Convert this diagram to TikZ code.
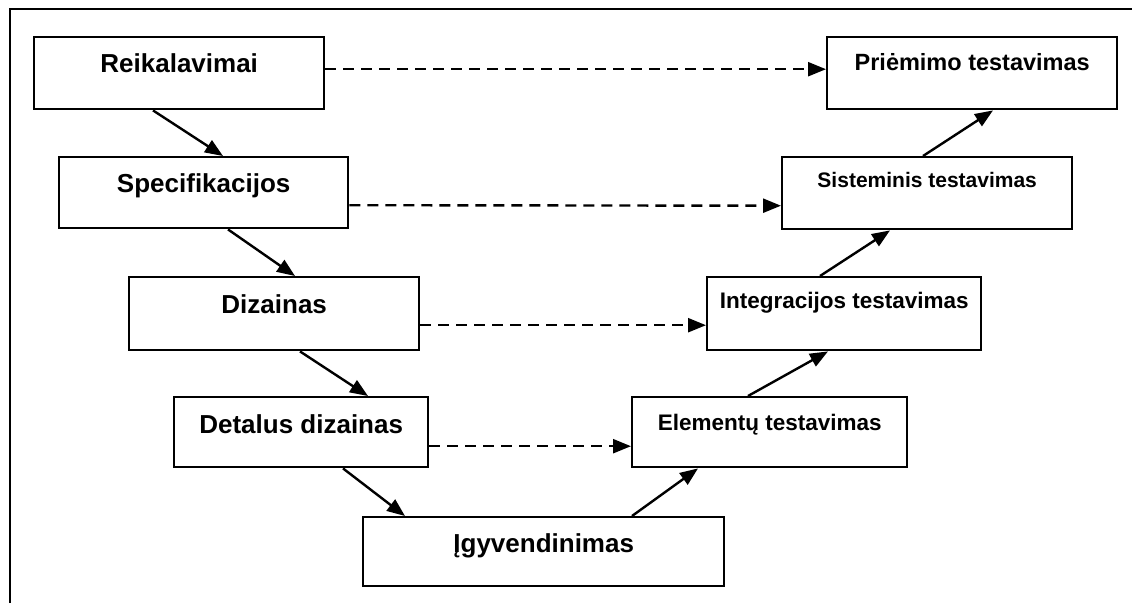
\documentclass[tikz,border=0pt]{standalone}
\usepackage{fontspec}
\setmainfont{Liberation Sans}
\usetikzlibrary{arrows.meta}
\tikzset{
  box/.style={draw=black, line width=2.4pt, rectangle, inner sep=0pt, anchor=north west},
  lbl/.style={anchor=base, inner sep=0pt, font=\bfseries},
  arr/.style={line width=2.4pt, -{Triangle[length=18pt,width=14pt]}},
  dsh/.style={line width=2.4pt, dash pattern=on 11pt off 7pt, -{Triangle[length=18pt,width=14pt]}},
  frame/.style={line width=2.4pt}
}
\newcommand{\fsz}[1]{\fontsize{#1}{#1}\selectfont}
\begin{document}
\begin{tikzpicture}[x=1pt,y=-1pt]
\useasboundingbox (0,0) rectangle (1132,603);
\draw[frame] (10,603) -- (10,9) -- (1132,9);
% left branch
\node[box, minimum width=290pt, minimum height=72pt] (r) at (33,36) {};
\node[box, minimum width=289pt, minimum height=71pt] (s) at (58,156) {};
\node[box, minimum width=290pt, minimum height=73pt] (d) at (128,276) {};
\node[box, minimum width=254pt, minimum height=70pt] (dd) at (173,396) {};
\node[box, minimum width=361pt, minimum height=69pt] (ig) at (362,516) {};
% right branch
\node[box, minimum width=275pt, minimum height=70pt] (el) at (631,396) {};
\node[box, minimum width=274pt, minimum height=73pt] (in) at (706,276) {};
\node[box, minimum width=290pt, minimum height=72pt] (si) at (781,156) {};
\node[box, minimum width=290pt, minimum height=72pt] (pr) at (826,36) {};
% labels
\node[lbl, font=\bfseries\fsz{26}] (rt) at ([yshift=-36pt]r.north) {Reikalavimai};
\node[lbl, font=\bfseries\fsz{26}] (st) at ([yshift=-36pt]s.north) {Specifikacijos};
\node[lbl, font=\bfseries\fsz{26}] (dt) at ([yshift=-37pt]d.north) {Dizainas};
\node[lbl, font=\bfseries\fsz{26}] (ddt) at ([yshift=-37pt]dd.north) {Detalus dizainas};
\node[lbl, font=\bfseries\fsz{26}] (igt) at ([yshift=-36pt]ig.north) {Įgyvendinimas};
\node[lbl, font=\bfseries\fsz{22.5}] (elt) at ([yshift=-34pt]el.north) {Elementų testavimas};
\node[lbl, font=\bfseries\fsz{22.5}] (int) at ([yshift=-32pt]in.north) {Integracijos testavimas};
\node[lbl, font=\bfseries\fsz{21}] (sit) at ([yshift=-31pt]si.north) {Sisteminis testavimas};
\node[lbl, font=\bfseries\fsz{23.5}] (prt) at ([yshift=-34pt]pr.north) {Priėmimo testavimas};
% solid arrows
\draw[arr] ([xshift=120pt]r.south west) -- ([xshift=165pt]s.north west);
\draw[arr] ([xshift=170pt]s.south west) -- ([xshift=167pt]d.north west);
\draw[arr] ([xshift=172pt]d.south west) -- ([xshift=195pt]dd.north west);
\draw[arr] ([xshift=170pt]dd.south west) -- ([xshift=43pt]ig.north west);
\draw[arr] ([xshift=270pt]ig.north west) -- ([xshift=67pt]el.south west);
\draw[arr] ([xshift=117pt]el.north west) -- ([xshift=122pt]in.south west);
\draw[arr] ([xshift=114pt]in.north west) -- ([xshift=109pt]si.south west);
\draw[arr] ([xshift=142pt]si.north west) -- ([xshift=167pt]pr.south west);
% dashed arrows
\draw[dsh] ([yshift=4pt]r.east) -- ([yshift=4pt]pr.west);
\draw[dsh] ([yshift=-12.5pt]s.east) -- ([yshift=-12.5pt]si.west);
\draw[dsh] ([yshift=-11.5pt]d.east) -- ([yshift=-11.5pt]in.west);
\draw[dsh] ([yshift=-14pt]dd.east) -- ([yshift=-14pt]el.west);
\end{tikzpicture}
\end{document}
